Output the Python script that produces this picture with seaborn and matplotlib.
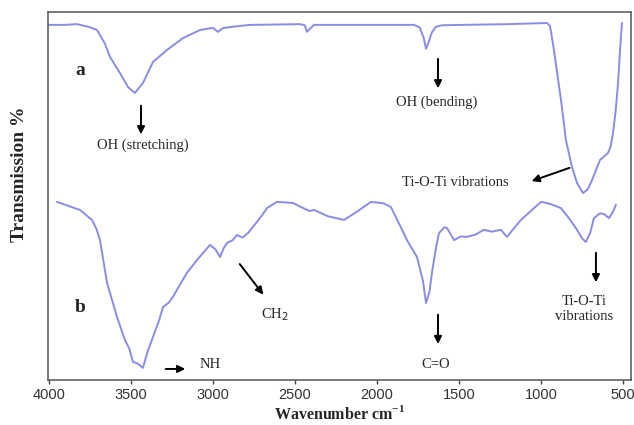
import matplotlib
matplotlib.use("Agg")
import matplotlib.pyplot as plt
import seaborn as sns
import pandas as pd

# Curve a (TiO2) : wavenumber / transmission (arbitrary units)
wn_a = [4000, 3900, 3830, 3811, 3760, 3707, 3660, 3628, 3567, 3518, 3476, 3427, 3366, 3280,
        3183, 3079, 3000, 2970, 2940, 2896, 2774, 2600, 2470, 2440, 2427, 2410, 2384, 2100,
        1774, 1740, 1715, 1701, 1685, 1665, 1640, 1600, 1470, 1200, 963, 945, 921, 900, 878,
        848, 811, 780, 744, 715, 689, 640, 591, 575, 561, 545, 530, 518, 506]
tr_a = [96.5, 96.5, 96.7, 96.5, 96.0, 95.1, 91.5, 87.8, 83.4, 79.6, 78.0, 80.7, 86.4, 89.7,
        92.9, 95.1, 95.7, 94.6, 95.6, 95.9, 96.5, 96.6, 96.7, 96.4, 94.6, 95.4, 96.5, 96.5,
        96.5, 95.8, 93.0, 90.0, 91.8, 94.5, 96.0, 96.4, 96.5, 96.7, 97.0, 96.2, 89.7, 83.0, 76.1,
        65.2, 57.9, 53.5, 50.8, 51.8, 54.3, 59.8, 61.7, 63.5, 67.1, 73.0, 80.7, 89.7, 97.0]

# Curve b
wn_b = [3951, 3900, 3811, 3738, 3710, 3689, 3646, 3585, 3537, 3510, 3488, 3460, 3427, 3400,
        3366, 3330, 3305, 3270, 3244, 3200, 3159, 3090, 3018, 2985, 2957, 2935, 2915, 2880,
        2854, 2820, 2787, 2740, 2700, 2671, 2610, 2512, 2440, 2409, 2384, 2300, 2201, 2120,
        2037, 1960, 1915, 1860, 1817, 1756, 1720, 1701, 1680, 1665, 1640, 1622, 1590, 1573,
        1530, 1490, 1451, 1400, 1348, 1300, 1244, 1220, 1207, 1160, 1122, 1060, 1000, 940,
        878, 830, 780, 750, 726, 700, 677, 640, 616, 585, 560, 543]
tr_b = [48.4, 47.6, 46.2, 43.5, 41.0, 38.0, 26.4, 17.1, 10.9, 8.5, 4.9, 4.5, 3.3, 7.5,
        11.7, 16.0, 19.8, 21.0, 22.6, 26.0, 29.1, 33.0, 36.7, 35.5, 33.4, 35.8, 37.2, 38.0,
        39.4, 38.7, 39.9, 42.5, 44.8, 46.7, 48.4, 48.1, 46.5, 45.9, 46.2, 44.5, 43.5, 45.8,
        48.4, 48.0, 47.0, 42.0, 38.0, 33.4, 27.0, 20.9, 24.0, 29.1, 36.0, 39.9, 41.5, 41.3,
        38.0, 39.0, 38.9, 39.5, 40.8, 40.3, 40.8, 39.5, 38.9, 41.5, 43.5, 46.0, 48.4, 47.8,
        46.7, 44.0, 40.8, 38.5, 37.5, 40.0, 44.0, 45.3, 45.1, 44.0, 45.8, 47.6]

x_ticks = [4000, 3500, 3000, 2500, 2000, 1500, 1000, 500]

df = pd.concat([
    pd.DataFrame({"wn": wn_a, "T": tr_a, "sample": "a"}),
    pd.DataFrame({"wn": wn_b, "T": tr_b, "sample": "b"}),
])

sns.set_style("white")
serif = ["Liberation Serif", "DejaVu Serif"]
line_col = "#8b8be8"

fig = plt.figure(figsize=(6.34, 4.25), dpi=100)
ax = fig.add_axes([0.0757, 0.1059, 0.9196, 0.8659])
sns.lineplot(data=df, x="wn", y="T", hue="sample", units="sample", estimator=None,
             sort=False, palette=[line_col, line_col], linewidth=1.4, legend=False, ax=ax)

ax.set_xlim(4006, 451)
ax.set_ylim(0, 100)
ax.set_xticks(x_ticks)
ax.set_xticklabels([str(t) for t in x_ticks], fontsize=10.5, family=["Liberation Sans"], color="#333333")
ax.set_yticks([])
ax.tick_params(axis="x", direction="out", length=3, width=1, color="#444444", pad=3, bottom=True)
for s in ax.spines.values():
    s.set_color("#555555")
    s.set_linewidth(1.1)

ax.set_xlabel("Wavenumber cm$^{\\mathregular{-1}}$", fontsize=11.5, fontweight="bold", family=serif, labelpad=2)
ax.set_ylabel("Transmission %", fontsize=14, fontweight="bold", family=serif)
ax.yaxis.set_label_coords(-0.035, 0.56)

tk = dict(fontsize=10.5, family=serif, ha="center", va="center")
ap = dict(arrowstyle="-|>", color="black", lw=1.4, mutation_scale=11)

ax.text(3811, 84.2, "a", fontsize=14, fontweight="bold", family=serif, ha="center", va="center")
ax.text(3811, 19.8, "b", fontsize=14, fontweight="bold", family=serif, ha="center", va="center")

ax.annotate("", xy=(3439, 66.0), xytext=(3439, 75.3), arrowprops=ap)
ax.text(3427, 63.9, "OH (stretching)", **tk)

ax.annotate("", xy=(1628, 78.5), xytext=(1628, 88.0), arrowprops=ap)
ax.text(1634, 75.5, "OH (bending)", **tk)

ax.annotate("", xy=(1073, 53.8), xytext=(810, 57.9), arrowprops=ap)
ax.text(1524, 53.8, "Ti-O-Ti vibrations", **tk)

ax.annotate("", xy=(2683, 22.6), xytext=(2847, 32.1), arrowprops=ap)
ax.text(2622, 17.7, "CH$_2$", **tk)

ax.annotate("", xy=(3152, 3.0), xytext=(3305, 3.0), arrowprops=ap)
ax.text(3018, 4.3, "NH", **tk)

ax.annotate("", xy=(1628, 9.0), xytext=(1628, 18.5), arrowprops=ap)
ax.text(1640, 4.3, "C=O", **tk)

ax.annotate("", xy=(665, 25.8), xytext=(665, 35.3), arrowprops=ap)
ax.text(738, 19.3, "Ti-O-Ti\nvibrations", linespacing=1.15, **tk)

fig.savefig("out.png", dpi=100)
